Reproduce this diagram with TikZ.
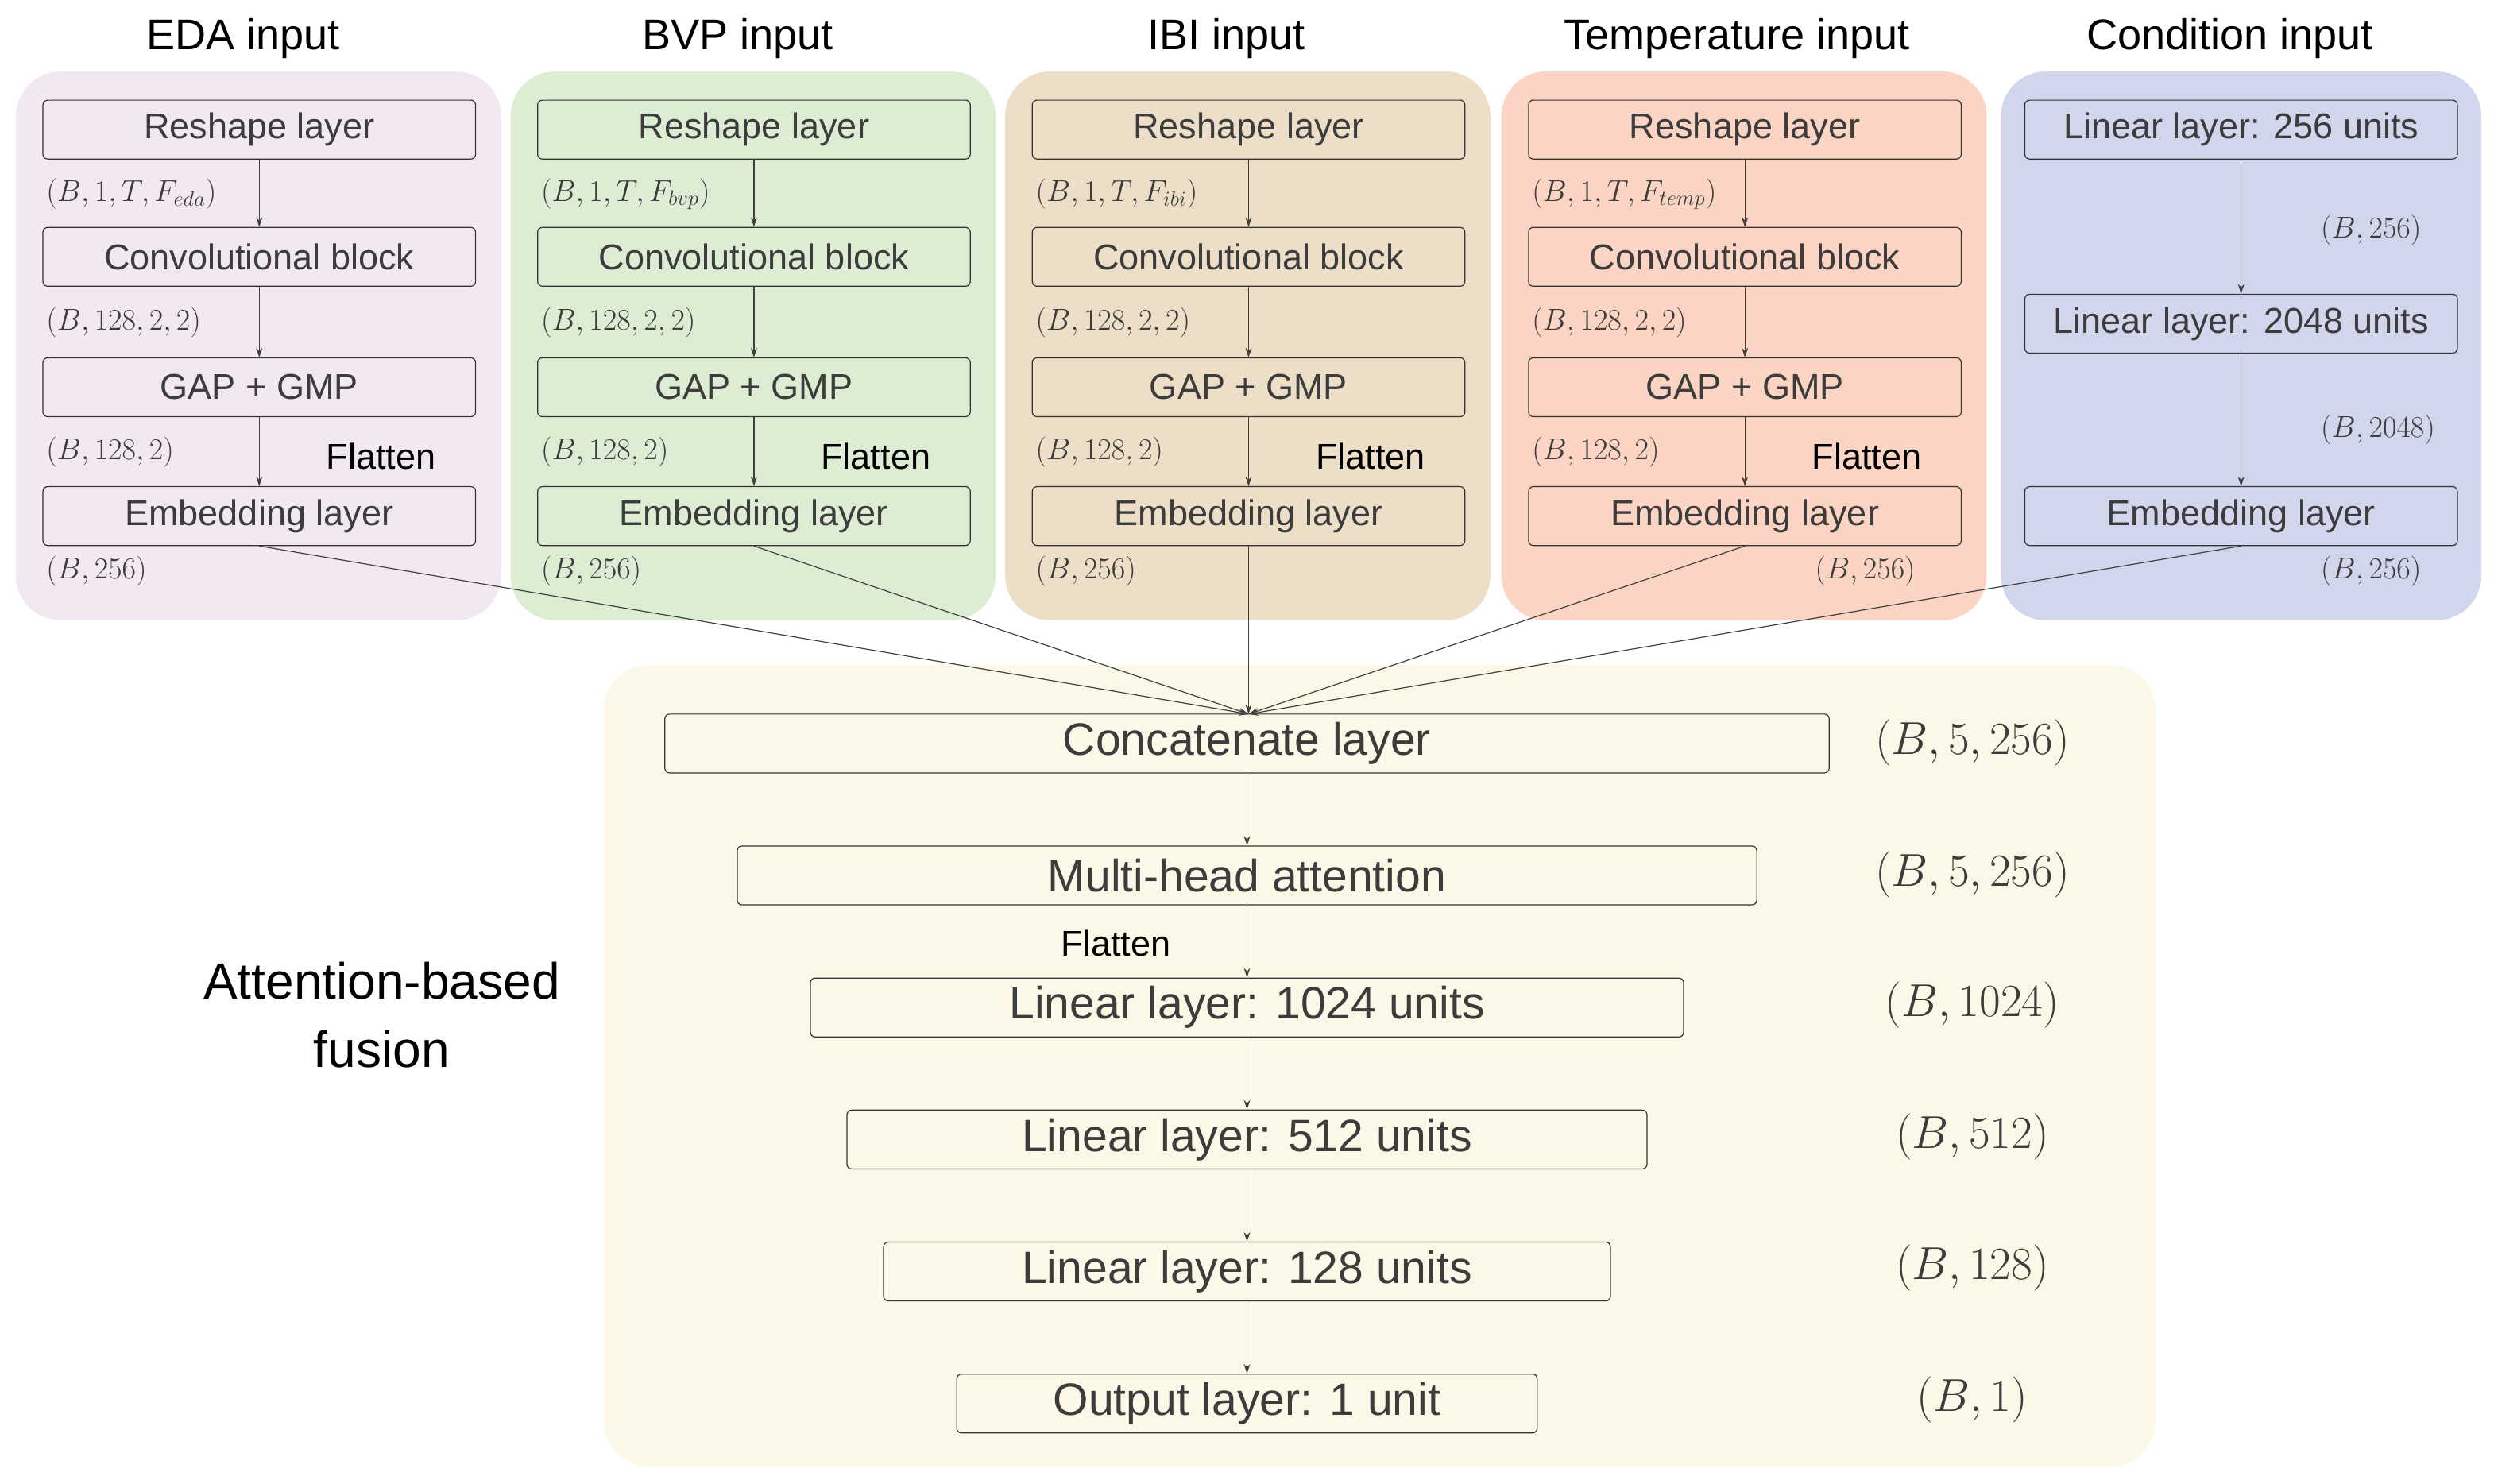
\RequirePackage{fix-cm}
\documentclass[tikz,border=0pt]{standalone}
\usepackage{fontspec}
\setmainfont{Liberation Sans}
\usetikzlibrary{arrows.meta}
\definecolor{pA}{RGB}{242,232,242}
\definecolor{pB}{RGB}{221,237,211}
\definecolor{pC}{RGB}{236,222,199}
\definecolor{pD}{RGB}{251,212,196}
\definecolor{pE}{RGB}{210,214,237}
\definecolor{pF}{RGB}{252,248,231}
\definecolor{tx}{RGB}{60,60,60}
\begin{document}
\begin{tikzpicture}[x=1pt,y=-1pt,
 panel/.style={rounded corners=28pt},
 box/.style={draw=black!80,rounded corners=3pt,line width=0.6pt,text=tx,font=\fontsize{22.5}{25}\selectfont},
 bbox/.style={draw=black!80,rounded corners=3pt,line width=0.6pt,text=tx,font=\fontsize{28.5}{31}\selectfont},
 ttl/.style={font=\fontsize{27}{30}\selectfont},
 lab/.style={anchor=west,text=tx,font=\fontsize{19}{22}\selectfont,inner sep=0pt},
 blab/.style={text=tx,font=\fontsize{29}{32}\selectfont,inner sep=0pt},
 fl/.style={font=\fontsize{22.5}{25}\selectfont,inner sep=0pt},
 ar/.style={-{Stealth[length=6pt,width=4pt]},draw=black!75,line width=0.6pt}]
\useasboundingbox (0,0) rectangle (1568,933);
\fill[pF,panel] (380,418) rectangle (1355,922);
\foreach \c/\xo in {pA/0,pB/311,pC/622,pD/934}
  \fill[\c,panel] (10+\xo,45) rectangle (315+\xo,390);
\fill[pE,panel] (1258,45) rectangle (1560,390);
% titles
\node[ttl] at (153,24) {EDA input};
\node[ttl] at (464,24) {BVP input};
\node[ttl] at (771,24) {IBI input};
\node[ttl] at (1092,24) {Temperature input};
\node[ttl] at (1402,24) {Condition input};
% four modality columns
\foreach \n/\xo/\c/\f in {a/0/pA/eda,b/311/pB/bvp,c/622/pC/ibi,d/934/pD/temp}{
 \node[box,fill=\c,minimum width=272pt,minimum height=37pt] (\n1) at (163+\xo,81.5) {Reshape layer};
 \node[box,fill=\c,minimum width=272pt,minimum height=37pt] (\n2) at (163+\xo,161.5) {Convolutional block};
 \node[box,fill=\c,minimum width=272pt,minimum height=37pt] (\n3) at (163+\xo,243.5) {GAP + GMP};
 \node[box,fill=\c,minimum width=272pt,minimum height=37pt] (\n4) at (163+\xo,324.5) {Embedding layer};
 \draw[ar] (\n1) -- (\n2); \draw[ar] (\n2) -- (\n3); \draw[ar] (\n3) -- (\n4);
 \node[lab] (\n l1) at (29+\xo,122) {$(B,1,T,F_{\f})$};
 \node[lab] (\n l2) at (29+\xo,203) {$(B,128,2,2)$};
 \node[lab] (\n l3) at (29+\xo,284) {$(B,128,2)$};
 \node[fl,anchor=west] (\n fl) at (205+\xo,287) {Flatten};
}
\node[lab] at (29,359) {$(B,256)$};
\node[lab] at (340,359) {$(B,256)$};
\node[lab] at (651,359) {$(B,256)$};
\node[lab] at (1141,359) {$(B,256)$};
% condition
\node[box,fill=pE,minimum width=272pt,minimum height=37pt] (e1) at (1409,81.5) {Linear layer: 256 units};
\node[box,fill=pE,minimum width=272pt,minimum height=37pt] (e2) at (1409,203.5) {Linear layer: 2048 units};
\node[box,fill=pE,minimum width=272pt,minimum height=37pt] (e4) at (1409,324.5) {Embedding layer};
\draw[ar] (e1) -- (e2); \draw[ar] (e2) -- (e4);
\node[lab] at (1459,145) {$(B,256)$};
\node[lab] at (1459,270) {$(B,2048)$};
\node[lab] at (1459,359) {$(B,256)$};
% fusion
\node[bbox,fill=pF,minimum width=732pt,minimum height=37pt] (f1) at (784,467.5) {Concatenate layer};
\node[bbox,fill=pF,minimum width=641pt,minimum height=37pt] (f2) at (784,550.5) {Multi-head attention};
\node[bbox,fill=pF,minimum width=549pt,minimum height=37pt] (f3) at (784,633.5) {Linear layer: 1024 units};
\node[bbox,fill=pF,minimum width=503pt,minimum height=37pt] (f4) at (784,716.5) {Linear layer: 512 units};
\node[bbox,fill=pF,minimum width=457pt,minimum height=37pt] (f5) at (784,799.5) {Linear layer: 128 units};
\node[bbox,fill=pF,minimum width=365pt,minimum height=37pt] (f6) at (784,882.5) {Output layer: 1 unit};
\draw[ar] (f1) -- (f2); \draw[ar] (f2) -- (f3); \draw[ar] (f3) -- (f4); \draw[ar] (f4) -- (f5); \draw[ar] (f5) -- (f6);
\node[fl,anchor=west] at (667,593) {Flatten};
\node[blab] at (1240,467) {$(B,5,256)$};
\node[blab] at (1240,550) {$(B,5,256)$};
\node[blab] at (1240,632) {$(B,1024)$};
\node[blab] at (1240,715) {$(B,512)$};
\node[blab] at (1240,797) {$(B,128)$};
\node[blab] at (1240,880) {$(B,1)$};
\node[font=\fontsize{32}{43}\selectfont,align=center] at (240,638) {Attention-based\\fusion};
% merging arrows
\coordinate (m) at (785,449);
\foreach \n in {a4,b4,c4,d4,e4} \draw[ar] (\n.south) -- (m);
\end{tikzpicture}
\end{document}
